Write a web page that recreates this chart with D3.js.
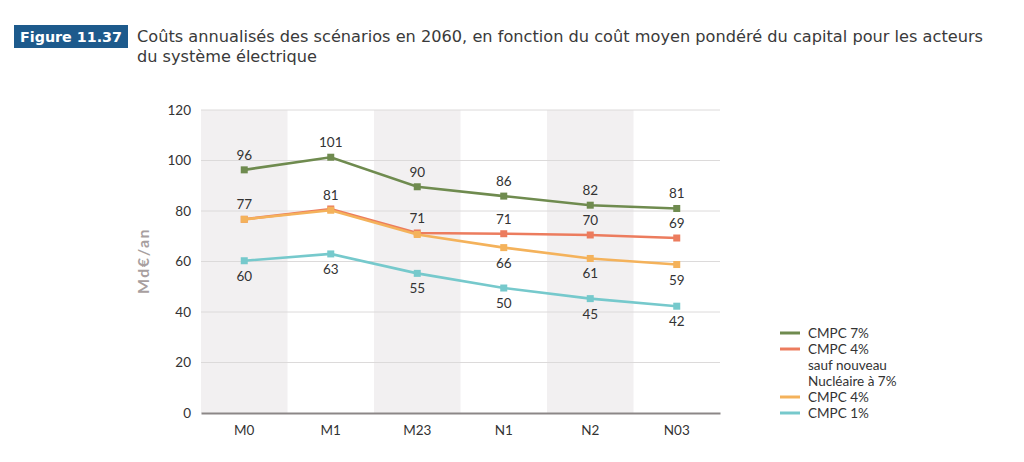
<!DOCTYPE html>
<html>
<head>
<meta charset="utf-8">
<script src="https://cdn.jsdelivr.net/npm/d3@7"></script>
<style>
  body { margin: 0; background: #fff; }
  svg { display: block; }
</style>
</head>
<body>
<svg id="chart" width="1024" height="462"></svg>
<script>
// categories (scenarios)
var scenarios = ['M0', 'M1', 'M23', 'N1', 'N2', 'N03'];

// series values (Md€/an)
var cmpc7 = [96.3, 101.3, 89.6, 85.9, 82.3, 81.0];
var cmpc4Nuc7 = [76.7, 80.8, 71.3, 71.0, 70.5, 69.3];
var cmpc4 = [76.7, 80.3, 70.7, 65.5, 61.2, 58.8];
var cmpc1 = [60.3, 63.0, 55.3, 49.5, 45.3, 42.3];

// value labels shown on the chart (null = not shown)
var lbl7 = ['96', '101', '90', '86', '82', '81'];
var lbl4Nuc7 = [null, null, '71', '71', '70', '69'];
var lbl4 = ['77', '81', null, '66', '61', '59'];
var lbl1 = ['60', '63', '55', '50', '45', '42'];

// label side: 'h' above the point, 'b' below
var pos7 = ['h', 'h', 'h', 'h', 'h', 'h'];
var pos4Nuc7 = ['h', 'h', 'h', 'h', 'h', 'h'];
var pos4 = ['h', 'h', 'b', 'b', 'b', 'b'];
var pos1 = ['b', 'b', 'b', 'b', 'b', 'b'];

var yTicks = [0, 20, 40, 60, 80, 100, 120];

var series = [
    { nom: 'CMPC 7%', valeurs: cmpc7, etiquettes: lbl7, pos: pos7, couleur: '#6f8b4f' },
    { nom: 'CMPC 4%|sauf nouveau|Nucléaire à 7%', valeurs: cmpc4Nuc7, etiquettes: lbl4Nuc7, pos: pos4Nuc7, couleur: '#ec7c5e' },
    { nom: 'CMPC 4%', valeurs: cmpc4, etiquettes: lbl4, pos: pos4, couleur: '#f4b25b' },
    { nom: 'CMPC 1%', valeurs: cmpc1, etiquettes: lbl1, pos: pos1, couleur: '#76c9cc' }
];

var svg = d3.select('#chart');
var police = 'Lato, "Open Sans", sans-serif';
var policeTitre = '"DejaVu Sans", sans-serif';

// titre
svg.append('rect').attr('x', 14).attr('y', 25).attr('width', 114).attr('height', 23).attr('fill', '#1d5a8c');
svg.append('text').attr('x', 20).attr('y', 42)
    .attr('fill', '#fff').style('font', 'bold 14px ' + policeTitre)
    .attr('textLength', 102).attr('lengthAdjust', 'spacingAndGlyphs')
    .text('Figure 11.37');
svg.append('text').attr('x', 137).attr('y', 42).attr('fill', '#3a3a3a')
    .style('font', '15.5px ' + policeTitre)
    .attr('textLength', 846).attr('lengthAdjust', 'spacingAndGlyphs')
    .text('Coûts annualisés des scénarios en 2060, en fonction du coût moyen pondéré du capital pour les acteurs');
svg.append('text').attr('x', 137).attr('y', 62).attr('fill', '#3a3a3a')
    .style('font', '15.5px ' + policeTitre)
    .attr('textLength', 180).attr('lengthAdjust', 'spacingAndGlyphs')
    .text('du système électrique');

// echelles
var x = d3.scaleBand().domain(scenarios).range([201, 720]);
var y = d3.scaleLinear().domain([0, 120]).range([413, 110]);

// bandes grises alternées
svg.selectAll('.bande').data(scenarios.filter(function(d, i) { return i % 2 == 0; }))
    .enter().append('rect')
    .attr('class', 'bande')
    .attr('x', function(d) { return x(d); })
    .attr('y', y(120))
    .attr('width', x.bandwidth())
    .attr('height', y(0) - y(120))
    .attr('fill', '#f2f0f1');

// grille
svg.selectAll('.grille').data(yTicks.slice(1))
    .enter().append('line')
    .attr('x1', 201).attr('x2', 720)
    .attr('y1', function(d) { return y(d); })
    .attr('y2', function(d) { return y(d); })
    .attr('stroke', '#dcdada').attr('stroke-width', 1);

// axe y
var axeY = svg.append('g').attr('transform', 'translate(201,0)')
    .call(d3.axisLeft(y).tickValues(yTicks).tickSize(0).tickPadding(10));
axeY.select('.domain').remove();
axeY.selectAll('text').style('font', '13.5px ' + police).attr('fill', '#333');

// axe x
var axeX = svg.append('g').attr('transform', 'translate(0,' + y(0) + ')')
    .call(d3.axisBottom(x).tickSize(0).tickPadding(12));
axeX.select('.domain').attr('stroke', '#8c8787').attr('stroke-width', 2);
axeX.selectAll('text').style('font', '13.5px ' + police).attr('fill', '#333');

// titre axe y
svg.append('text')
    .attr('transform', 'translate(149,261) rotate(-90)')
    .attr('text-anchor', 'middle')
    .attr('fill', '#a89f9f')
    .style('font', 'bold 16px ' + police)
    .style('letter-spacing', '1.5px')
    .text('Md€/an');

var cx = function(i) { return x(scenarios[i]) + x.bandwidth() / 2; };
var ligne = d3.line()
    .x(function(d, i) { return cx(i); })
    .y(function(d) { return y(d); });

// courbes (ordre de dessin : orange au-dessus du rouge)
var ordre = [series[3], series[1], series[2], series[0]];
ordre.forEach(function(s) {
    svg.append('path').datum(s.valeurs)
        .attr('d', ligne)
        .attr('fill', 'none')
        .attr('stroke', s.couleur)
        .attr('stroke-width', 2.6);

    svg.selectAll(null).data(s.valeurs).enter().append('rect')
        .attr('x', function(d, i) { return cx(i) - 3.5; })
        .attr('y', function(d) { return y(d) - 3.5; })
        .attr('width', 7).attr('height', 7)
        .attr('fill', s.couleur);
});

// etiquettes de valeurs
series.forEach(function(s) {
    var points = s.valeurs.map(function(v, i) {
        return { v: v, i: i, t: s.etiquettes[i], p: s.pos[i] };
    }).filter(function(d) { return d.t != null; });

    svg.selectAll(null).data(points).enter().append('text')
        .attr('x', function(d) { return cx(d.i); })
        .attr('y', function(d) { return d.p == 'h' ? y(d.v) - 10 : y(d.v) + 20; })
        .attr('text-anchor', 'middle')
        .attr('fill', '#333')
        .style('font', '13.5px ' + police)
        .text(function(d) { return d.t; });
});

// legende
var yLeg = [333, 349, 397, 413];
series.forEach(function(s, k) {
    svg.append('line')
        .attr('x1', 780).attr('x2', 800)
        .attr('y1', yLeg[k]).attr('y2', yLeg[k])
        .attr('stroke', s.couleur).attr('stroke-width', 3);
    s.nom.split('|').forEach(function(t, j) {
        svg.append('text')
            .attr('x', 808).attr('y', yLeg[k] + 5 + j * 16)
            .attr('fill', '#333')
            .style('font', '13.5px ' + police)
            .text(t);
    });
});
</script>
</body>
</html>
